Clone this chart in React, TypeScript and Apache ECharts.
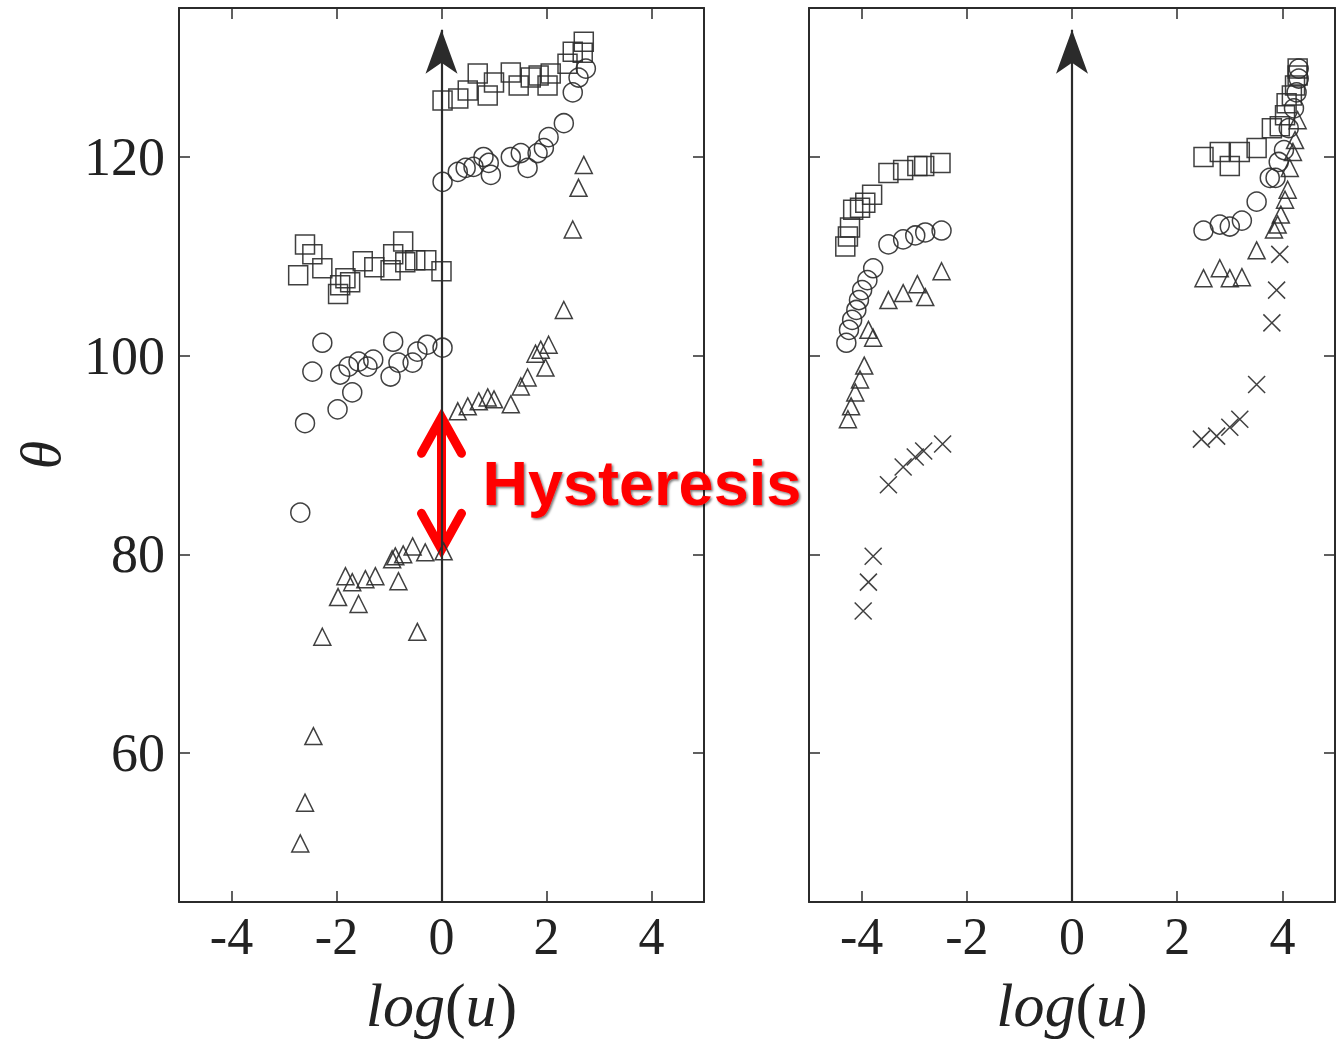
import React, { useEffect, useRef } from "react";
import * as echarts from "echarts";

// ---- data (x = log(u), y = theta) ----
const leftSquares = [
  [-2.6, 111.2], [-2.73, 108.1], [-2.46, 110.2], [-2.27, 108.8], [-1.97, 106.2], [-1.93, 107.1],
  [-1.83, 107.8], [-1.74, 107.4], [-1.5, 109.5], [-1.28, 108.9], [-0.97, 108.6], [-0.92, 110.2],
  [-0.73, 111.5], [-0.69, 109.4], [-0.5, 109.6], [-0.29, 109.6], [0.0, 108.5],
  [0.02, 125.7], [0.32, 125.9], [0.5, 126.7], [0.69, 128.4], [0.88, 126.2], [1.0, 127.5],
  [1.32, 128.5], [1.47, 127.2], [1.7, 128.0], [1.85, 128.2], [2.02, 127.2], [2.08, 128.4],
  [2.4, 129.4], [2.5, 130.6], [2.71, 131.6], [2.69, 130.5],
];
const leftCircles = [
  [-2.6, 93.2], [-2.69, 84.2], [-2.46, 98.4], [-2.27, 101.3], [-1.98, 94.6], [-1.93, 98.1],
  [-1.77, 98.9], [-1.7, 96.3], [-1.58, 99.4], [-1.41, 98.9], [-1.3, 99.6], [-0.97, 97.9],
  [-0.92, 101.4], [-0.82, 99.3], [-0.55, 99.3], [-0.46, 100.4], [-0.27, 101.1], [0.02, 100.8],
  [0.02, 117.5], [0.31, 118.5], [0.46, 118.9], [0.61, 119.0], [0.8, 120.0], [0.9, 119.4],
  [0.94, 118.2], [1.32, 120.0], [1.51, 120.4], [1.64, 118.9], [1.83, 120.4], [1.95, 120.9],
  [2.04, 122.0], [2.33, 123.4], [2.5, 126.5], [2.61, 128.0], [2.75, 128.9],
];
const leftTriangles = [
  [-2.69, 50.9], [-2.6, 55.0], [-2.44, 61.7], [-2.27, 71.7], [-1.97, 75.7], [-1.83, 77.8],
  [-1.7, 77.2], [-1.58, 75.0], [-1.45, 77.5], [-1.26, 77.8], [-0.94, 79.5], [-0.88, 79.8],
  [-0.82, 77.3], [-0.73, 80.0], [-0.55, 80.8], [-0.46, 72.2], [-0.31, 80.2], [0.04, 80.3],
  [0.31, 94.4], [0.5, 94.9], [0.71, 95.4], [0.88, 95.8], [1.0, 95.6], [1.32, 95.1],
  [1.51, 96.9], [1.64, 97.8], [1.79, 100.2], [1.89, 100.6], [1.98, 98.8], [2.04, 101.1],
  [2.33, 104.6], [2.5, 112.7], [2.61, 116.9], [2.71, 119.2],
];
const rightSquares = [
  [-4.31, 111.0], [-4.26, 112.0], [-4.22, 112.9], [-4.16, 114.7], [-4.03, 114.9], [-3.93, 115.4],
  [-3.8, 116.2], [-3.49, 118.4], [-3.21, 118.7], [-2.94, 119.1], [-2.81, 119.1], [-2.5, 119.4],
  [2.5, 120.0], [2.81, 120.5], [3.0, 119.1], [3.19, 120.5], [3.51, 120.9], [3.8, 122.9],
  [3.95, 123.1], [4.05, 124.2], [4.08, 125.4], [4.18, 126.2], [4.24, 127.2], [4.29, 128.2], [4.29, 128.9],
];
const rightCircles = [
  [-4.29, 101.3], [-4.24, 102.6], [-4.18, 103.6], [-4.1, 104.6], [-4.05, 105.6], [-3.99, 106.6],
  [-3.89, 107.6], [-3.78, 108.8], [-3.49, 111.2], [-3.21, 111.7], [-2.98, 112.1], [-2.79, 112.4],
  [-2.48, 112.6],
  [2.5, 112.6], [2.81, 113.2], [3.0, 113.0], [3.23, 113.6], [3.51, 115.5], [3.76, 117.9],
  [3.87, 117.9], [3.93, 119.5], [4.03, 120.7], [4.12, 122.9], [4.22, 124.9], [4.27, 126.5],
  [4.31, 127.9], [4.31, 128.9],
];
const rightTriangles = [
  [-4.26, 93.6], [-4.2, 94.9], [-4.12, 96.3], [-4.03, 97.6], [-3.95, 99.0], [-3.87, 102.6],
  [-3.78, 101.8], [-3.49, 105.6], [-3.21, 106.3], [-2.94, 107.2], [-2.79, 105.9], [-2.48, 108.5],
  [2.5, 107.8], [2.81, 108.8], [3.0, 107.8], [3.23, 107.9], [3.51, 110.6], [3.84, 112.7],
  [3.91, 113.2], [3.97, 114.2], [4.05, 115.7], [4.1, 116.7], [4.14, 118.9], [4.2, 120.5],
  [4.24, 121.7], [4.29, 123.7],
];
const rightCrosses = [
  [-3.97, 74.3], [-3.87, 77.2], [-3.78, 79.8], [-3.49, 87.0], [-3.21, 88.8], [-2.98, 89.8],
  [-2.82, 90.4], [-2.46, 91.1],
  [2.46, 91.6], [2.75, 91.9], [3.0, 92.8], [3.19, 93.6], [3.51, 97.1], [3.8, 103.3],
  [3.89, 106.6], [3.95, 110.2],
];

const xTicks = [-4, -2, 0, 2, 4];
const yTicks = [60, 80, 100, 120];
const xRange = [-5, 5];
const yRange = [45, 135];
const arrowLine = [[0, 45], [0, 132.8]];
const hysteresis = [[0, 93.8, 80.5]];
const hysteresisLabel = "Hysteresis";
const xName = "{i|log}{r|(}{i|u}{r|)}";
const yName = "θ";

const INK = "#2b2b2b";
const SERIF = "'Liberation Serif', 'DejaVu Serif', serif";

export default function App() {
  const ref = useRef<HTMLDivElement>(null);
  useEffect(() => {
    document.body.style.margin = "0";
    const chart = echarts.init(ref.current!, null, { renderer: "svg" });

    const tickStyle = { inside: true, length: 11, lineStyle: { color: INK, width: 1.5 } };
    const axisLine = { show: true, onZero: false, lineStyle: { color: INK, width: 2 } };

    const makeX = (gi: number, pos: "bottom" | "top") => ({
      type: "value",
      gridIndex: gi,
      position: pos,
      min: xRange[0],
      max: xRange[1],
      axisLine,
      axisTick: { ...tickStyle, customValues: xTicks },
      splitLine: { show: false },
      axisLabel: pos === "bottom"
        ? {
            show: true,
            customValues: xTicks,
            fontFamily: SERIF,
            fontSize: 52,
            color: "#222",
            margin: 8,
            formatter: (v: number) => String(v),
          }
        : { show: false },
      name: pos === "bottom" ? xName : "",
      nameLocation: "middle",
      nameGap: 72,
      nameTextStyle: {
        rich: {
          i: { fontFamily: SERIF, fontStyle: "italic", fontSize: 62, color: "#222" },
          r: { fontFamily: SERIF, fontSize: 62, color: "#222" },
        },
      },
    });
    const makeY = (gi: number, pos: "left" | "right", labels: boolean) => ({
      type: "value",
      gridIndex: gi,
      position: pos,
      min: yRange[0],
      max: yRange[1],
      axisLine,
      axisTick: { ...tickStyle, customValues: yTicks },
      splitLine: { show: false },
      axisLabel: labels
        ? { show: true, customValues: yTicks, fontFamily: SERIF, fontSize: 54, color: "#222", margin: 14 }
        : { show: false },
      name: labels ? yName : "",
      nameLocation: "middle",
      nameGap: 110,
      nameTextStyle: { fontFamily: SERIF, fontStyle: "italic", fontSize: 58, color: "#222" },
    });

    const marker = (name: string, data: number[][], symbol: string, size: number, xi: number, yi: number) => ({
      name,
      type: "scatter",
      xAxisIndex: xi,
      yAxisIndex: yi,
      data,
      symbol,
      symbolSize: size,
      itemStyle: { color: "transparent", borderColor: INK, borderWidth: 1.5, opacity: 0.9 },
      silent: true,
    });
    const CROSS = "path://M0,0L10,10M10,0L0,10";

    const arrowSeries = (xi: number, yi: number) => ({
      type: "line",
      xAxisIndex: xi,
      yAxisIndex: yi,
      data: [],
      markLine: {
        silent: true,
        symbol: ["none", "arrow"],
        symbolSize: [24, 44],
        label: { show: false },
        lineStyle: { color: INK, width: 2.2, type: "solid" },
        data: [[{ coord: arrowLine[0] }, { coord: arrowLine[1] }]],
      },
    });

    chart.setOption({
      animation: false,
      backgroundColor: "#ffffff",
      grid: [
        { left: 179, top: 8, width: 525, height: 895 },
        { left: 809, top: 8, width: 526, height: 895 },
      ],
      xAxis: [makeX(0, "bottom"), makeX(0, "top"), makeX(1, "bottom"), makeX(1, "top")],
      yAxis: [makeY(0, "left", true), makeY(0, "right", false), makeY(1, "left", false), makeY(1, "right", false)],
      series: [
        arrowSeries(0, 0),
        arrowSeries(2, 2),
        marker("leftSquares", leftSquares, "rect", 19, 0, 0),
        marker("leftCircles", leftCircles, "circle", 19, 0, 0),
        marker("leftTriangles", leftTriangles, "triangle", 17, 0, 0),
        marker("rightSquares", rightSquares, "rect", 19, 2, 2),
        marker("rightCircles", rightCircles, "circle", 19, 2, 2),
        marker("rightTriangles", rightTriangles, "triangle", 17, 2, 2),
        marker("rightCrosses", rightCrosses, CROSS, 17, 2, 2),
        {
          type: "custom",
          xAxisIndex: 0,
          yAxisIndex: 0,
          clip: false,
          silent: true,
          data: hysteresis,
          renderItem: (params: any, api: any) => {
            const top = api.coord([api.value(0), api.value(1)]);
            const bot = api.coord([api.value(0), api.value(2)]);
            const hw = 20;
            const hh = 36;
            const red = "#ff0000";
            const lw = 9;
            return {
              type: "group",
              children: [
                {
                  type: "line",
                  shape: { x1: top[0], y1: top[1] + 4, x2: bot[0], y2: bot[1] - 4 },
                  style: { stroke: red, lineWidth: lw, lineCap: "round" },
                },
                {
                  type: "polyline",
                  shape: { points: [[top[0] - hw, top[1] + hh], [top[0], top[1]], [top[0] + hw, top[1] + hh]] },
                  style: { stroke: red, lineWidth: lw, lineCap: "round", lineJoin: "miter", fill: "none" },
                },
                {
                  type: "polyline",
                  shape: { points: [[bot[0] - hw, bot[1] - hh], [bot[0], bot[1]], [bot[0] + hw, bot[1] - hh]] },
                  style: { stroke: red, lineWidth: lw, lineCap: "round", lineJoin: "miter", fill: "none" },
                },
                {
                  type: "text",
                  x: top[0] + 41,
                  y: (top[1] + bot[1]) / 2,
                  style: {
                    text: hysteresisLabel,
                    fill: red,
                    fontFamily: "'Liberation Sans', Arial, sans-serif",
                    fontWeight: "bold",
                    fontSize: 63,
                    align: "left",
                    verticalAlign: "middle",
                    textShadowColor: "rgba(0,0,0,0.55)",
                    textShadowBlur: 2,
                    textShadowOffsetX: 1.5,
                    textShadowOffsetY: 1.5,
                  },
                },
              ],
            };
          },
        },
      ],
    });
    return () => chart.dispose();
  }, []);
  return <div ref={ref} style={{ width: 1338, height: 1041 }} />;
}
